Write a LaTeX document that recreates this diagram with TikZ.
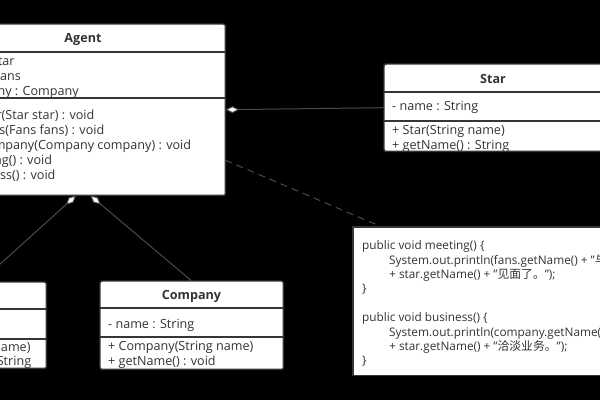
\documentclass[tikz,border=0pt]{standalone}
\usepackage{fontspec}
\setmainfont{Open Sans}
\newfontfamily\cjk{Noto Sans CJK SC}
\usetikzlibrary{arrows.meta}
\definecolor{bc}{HTML}{363636}
\definecolor{tc}{HTML}{333333}
\definecolor{lc}{HTML}{4a4a4a}
\begin{document}
\begin{tikzpicture}[x=1pt,y=-1pt,
  boxfill/.style={fill=white, draw=none, inner sep=0pt, anchor=north west},
  bord/.style={draw=bc, line width=1.4pt, rounded corners=2pt},
  div/.style={draw=bc, line width=1.4pt},
  txt/.style={anchor=west, inner sep=0pt, text=tc, font=\fontsize{12.6}{14}\selectfont, text height=9pt, text depth=3pt},
  ttl/.style={inner sep=0pt, text=tc, font=\bfseries\fontsize{12.6}{14}\selectfont},
  ntxt/.style={anchor=west, inner sep=0pt, text=tc, font=\fontsize{11.8}{14}\selectfont, text height=8.5pt, text depth=3pt},
  conn/.style={draw=lc, line width=1pt},
  agg/.style={conn, {Diamond[fill=white, length=14pt, width=7pt]}-},
]
\fill[black] (0,0) rectangle (600,400);
\useasboundingbox (0,0) rectangle (600,400);
\clip (0,0) rectangle (600,400);

% boxes (fill)
\node[boxfill, minimum width=284pt, minimum height=171pt] (agent) at (-59,24) {};
\node[boxfill, minimum width=218pt, minimum height=87pt] (star) at (384,64) {};
\node[boxfill, minimum width=183pt, minimum height=88pt] (company) at (100,281) {};
\node[boxfill, minimum width=140pt, minimum height=86pt] (fans) at (-94,282) {};
\node[boxfill, minimum width=290pt, minimum height=148pt] (note) at (353,227) {};

% connectors
\draw[agg] (agent.east) -- (star.west);
\draw[agg] ([xshift=-7pt]agent.south) -- ([xshift=4pt]fans.north);
\draw[agg] ([xshift=7pt]agent.south) -- (company.north);
\draw[conn, dash pattern=on 7pt off 5pt] ([yshift=-50.5pt]agent.east) -- ([xshift=29pt]note.north west);

% Agent
\node[ttl] (agentT) at (83,39) {Agent};
\node[txt] (ag1) at (-50,62) {- star : Star};
\node[txt] (ag2) at (-50,77) {- fans : Fans};
\node[txt] (ag3) at (-50,92) {- company : Company};
\node[txt] (ag4) at (-50,116) {+ setStar(Star star) : void};
\node[txt] (ag5) at (-50,131) {+ setFans(Fans fans) : void};
\node[txt] (ag6) at (-50,146) {+ setCompany(Company company) : void};
\node[txt] (ag7) at (-50,161) {+ meeting() : void};
\node[txt] (ag8) at (-50,176) {+ business() : void};
\draw[div] ([yshift=-28pt]agent.north west) -- ([yshift=-28pt]agent.north east);
\draw[div] ([yshift=-74pt]agent.north west) -- ([yshift=-74pt]agent.north east);
\draw[bord] (agent.north west) rectangle (agent.south east);

% Star
\node[ttl] (starT) at (493,79) {Star};
\node[txt] (st1) at (392,107) {- name : String};
\begin{scope}
\clip (star.north west) rectangle (star.south east);
\node[txt] (st2) at (392,131) {+ Star(String name)};
\node[txt] (st3) at (392,146) {+ getName() : String};
\end{scope}
\draw[div] ([yshift=-28pt]star.north west) -- ([yshift=-28pt]star.north east);
\draw[div] ([yshift=-57pt]star.north west) -- ([yshift=-57pt]star.north east);
\draw[bord] (star.north west) rectangle (star.south east);

% Company
\node[ttl] (compT) at (191.5,296) {Company};
\node[txt] (co1) at (108,325) {- name : String};
\node[txt] (co2) at (108,347) {+ Company(String name)};
\node[txt] (co3) at (108,362) {+ getName() : void};
\draw[div] ([yshift=-27pt]company.north west) -- ([yshift=-27pt]company.north east);
\draw[div] ([yshift=-56pt]company.north west) -- ([yshift=-56pt]company.north east);
\draw[bord] (company.north west) rectangle (company.south east);

% Fans
\node[ttl] (fansT) at (-24,296) {Fans};
\node[txt] (fa1) at (-86,325) {- name : String};
\node[txt] (fa2) at (-86,348) {+ Fans(String name)};
\node[txt] (fa3) at (-86,362) {+ getName() : String};
\draw[div] ([yshift=-27pt]fans.north west) -- ([yshift=-27pt]fans.north east);
\draw[div] ([yshift=-57pt]fans.north west) -- ([yshift=-57pt]fans.north east);
\draw[bord] (fans.north west) rectangle (fans.south east);

% Note
\draw[bord, rounded corners=0pt] (note.north west) rectangle (note.south east);
\node[ntxt] (n1) at (362,247) {public void meeting() \{};
\node[ntxt] (n2) at (389,262) {System.out.println(fans.getName() + "{\cjk 与明星}"};
\node[ntxt] (n3) at (389,276) {+ star.getName() + "{\cjk 见面了。}");};
\node[ntxt] (n4) at (362,290) {\}};
\node[ntxt] (n5) at (362,319) {public void business() \{};
\node[ntxt] (n6) at (389,334) {System.out.println(company.getName() + "{\cjk 与明星}"};
\node[ntxt] (n7) at (389,348) {+ star.getName() + "{\cjk 洽淡业务。}");};
\node[ntxt] (n8) at (362,362) {\}};
\end{tikzpicture}
\end{document}
